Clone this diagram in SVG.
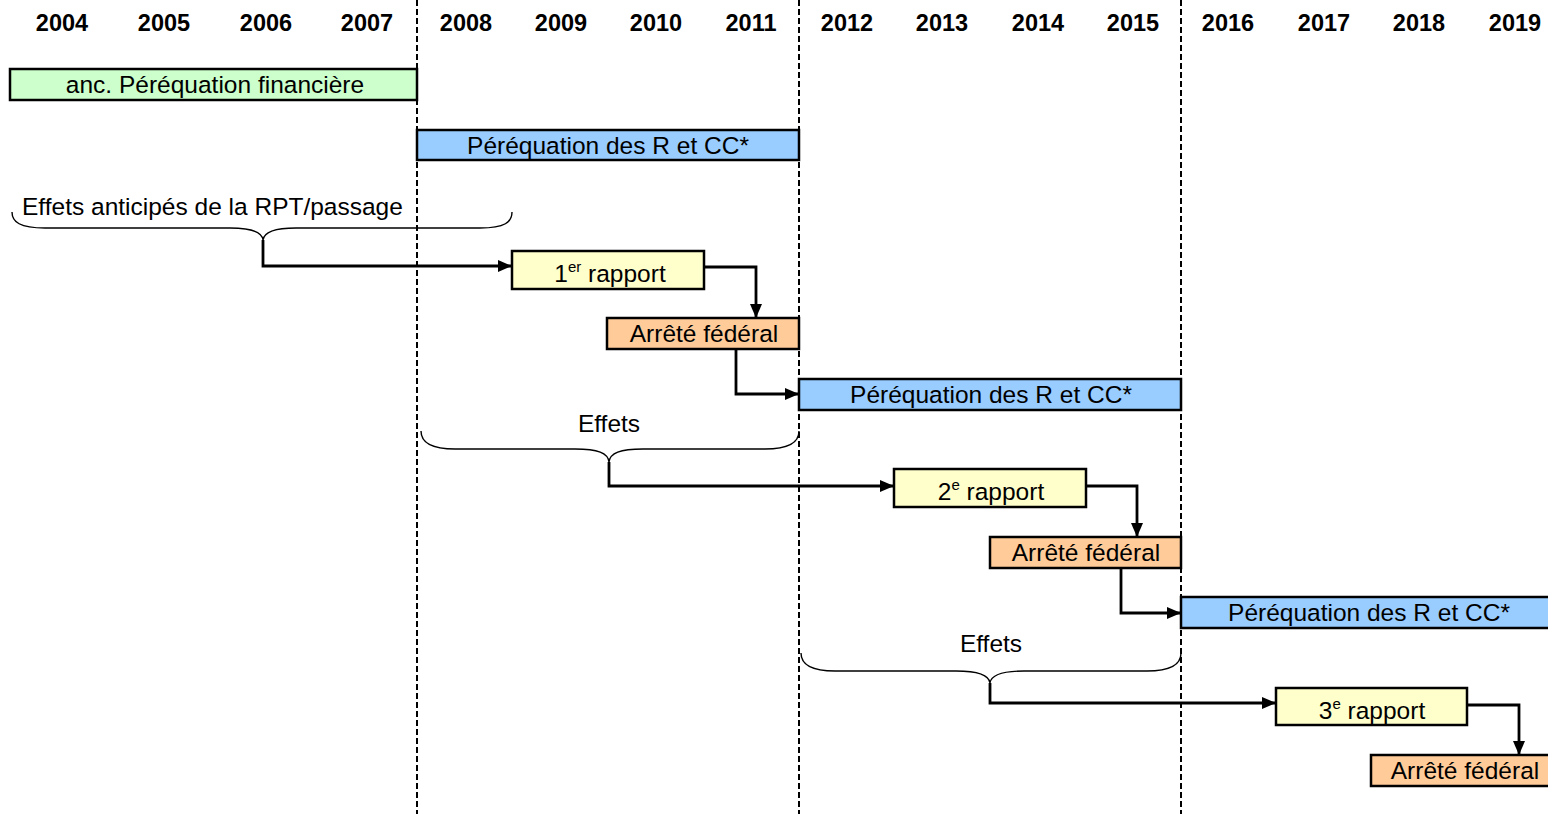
<svg xmlns="http://www.w3.org/2000/svg" width="1548" height="814" viewBox="0 0 1548 814">
  <style>
    .yr { font-family: "Liberation Sans", Arial, sans-serif; font-size: 23.5px; font-weight: bold; fill: #000; text-anchor: middle; }
    .lbl { font-family: "Liberation Sans", Arial, sans-serif; font-size: 24.5px; fill: #000; text-anchor: middle; }
    .sup { font-size: 15px; }
    .box { stroke: #000; stroke-width: 2.5; }
    .green { fill: #ccffcc; }
    .blue { fill: #99ccff; }
    .yellow { fill: #ffffcc; }
    .orange { fill: #ffcc99; }
    .sep { stroke: #000; stroke-width: 2; stroke-dasharray: 6 3; fill: none; }
    .brace { stroke: #000; stroke-width: 1.4; fill: none; }
    .link { stroke: #000; stroke-width: 2.8; fill: none; marker-end: url(#arrow); }
  </style>
  <defs>
    <marker id="arrow" markerWidth="14" markerHeight="12" refX="13" refY="6" orient="auto" markerUnits="userSpaceOnUse">
      <path d="M0,0 L14,6 L0,12 Z" fill="#000"/>
    </marker>
  </defs>

  <rect width="1548" height="814" fill="#fff"/>

  <!-- year scale -->
  <g id="years">
    <text class="yr" x="62" y="31">2004</text>
    <text class="yr" x="164" y="31">2005</text>
    <text class="yr" x="266" y="31">2006</text>
    <text class="yr" x="367" y="31">2007</text>
    <text class="yr" x="466" y="31">2008</text>
    <text class="yr" x="561" y="31">2009</text>
    <text class="yr" x="656" y="31">2010</text>
    <text class="yr" x="751" y="31">2011</text>
    <text class="yr" x="847" y="31">2012</text>
    <text class="yr" x="942" y="31">2013</text>
    <text class="yr" x="1038" y="31">2014</text>
    <text class="yr" x="1133" y="31">2015</text>
    <text class="yr" x="1228" y="31">2016</text>
    <text class="yr" x="1324" y="31">2017</text>
    <text class="yr" x="1419" y="31">2018</text>
    <text class="yr" x="1515" y="31">2019</text>
  </g>

  <!-- nodes -->
  <g id="anc-perequation">
    <rect class="box green" x="10" y="69" width="407" height="31"/>
    <text class="lbl" x="215" y="93">anc. Péréquation financière</text>
  </g>
  <g id="perequation-1">
    <rect class="box blue" x="417" y="130" width="382" height="30"/>
    <text class="lbl" x="608" y="154">Péréquation des R et CC*</text>
  </g>
  <g id="rapport-1">
    <rect class="box yellow" x="512" y="251" width="192" height="38"/>
    <text class="lbl" x="610" y="282">1<tspan class="sup" dy="-10">er</tspan><tspan dy="10"> rapport</tspan></text>
  </g>
  <g id="arrete-1">
    <rect class="box orange" x="607" y="318" width="192" height="31"/>
    <text class="lbl" x="704" y="342">Arrêté fédéral</text>
  </g>
  <g id="perequation-2">
    <rect class="box blue" x="799" y="379" width="382" height="31"/>
    <text class="lbl" x="991" y="403">Péréquation des R et CC*</text>
  </g>
  <g id="rapport-2">
    <rect class="box yellow" x="894" y="469" width="192" height="38"/>
    <text class="lbl" x="991" y="500">2<tspan class="sup" dy="-10">e</tspan><tspan dy="10"> rapport</tspan></text>
  </g>
  <g id="arrete-2">
    <rect class="box orange" x="990" y="537" width="191" height="31"/>
    <text class="lbl" x="1086" y="561">Arrêté fédéral</text>
  </g>
  <g id="perequation-3">
    <rect class="box blue" x="1181" y="597" width="370" height="31"/>
    <text class="lbl" x="1369" y="621">Péréquation des R et CC*</text>
  </g>
  <g id="rapport-3">
    <rect class="box yellow" x="1276" y="688" width="191" height="37"/>
    <text class="lbl" x="1372" y="719">3<tspan class="sup" dy="-10">e</tspan><tspan dy="10"> rapport</tspan></text>
  </g>
  <g id="arrete-3">
    <rect class="box orange" x="1371" y="755" width="180" height="31"/>
    <text class="lbl" x="1465" y="779">Arrêté fédéral</text>
  </g>

  <!-- period dividers -->
  <g id="dividers">
    <line class="sep" x1="417" y1="0" x2="417" y2="814"/>
    <line class="sep" x1="799" y1="0" x2="799" y2="814"/>
    <line class="sep" x1="1181" y1="0" x2="1181" y2="814"/>
  </g>

  <!-- braces with captions -->
  <g id="effets-anticipes">
    <path class="brace" d="M12,212 C12,222 20,228 45,228 L230,228 C252,228 262,232 263,240 C264,232 274,228 296,228 L480,228 C505,228 512,222 512,212"/>
    <text class="lbl" x="22" y="215" style="text-anchor:start">Effets anticipés de la RPT/passage</text>
  </g>
  <g id="effets-1">
    <path class="brace" d="M421,431 C421,442 430,449 455,449 L575,449 C598,449 608,453 609,462 C610,453 620,449 643,449 L765,449 C790,449 799,442 799,431"/>
    <text class="lbl" x="609" y="432">Effets</text>
  </g>
  <g id="effets-2">
    <path class="brace" d="M801,653 C801,664 810,671 835,671 L956,671 C979,671 989,675 990,683 C991,675 1001,671 1024,671 L1147,671 C1172,671 1181,664 1181,653"/>
    <text class="lbl" x="991" y="652">Effets</text>
  </g>

  <!-- connectors -->
  <g id="connectors">
    <path class="link" d="M263,240 L263,266 L511,266"/>
    <path class="link" d="M704,267 L756,267 L756,317"/>
    <path class="link" d="M736,349 L736,394 L798,394"/>
    <path class="link" d="M609,462 L609,486 L893,486"/>
    <path class="link" d="M1086,486 L1137,486 L1137,536"/>
    <path class="link" d="M1121,568 L1121,613 L1180,613"/>
    <path class="link" d="M990,683 L990,703 L1275,703"/>
    <path class="link" d="M1467,705 L1519,705 L1519,754"/>
  </g>
</svg>
